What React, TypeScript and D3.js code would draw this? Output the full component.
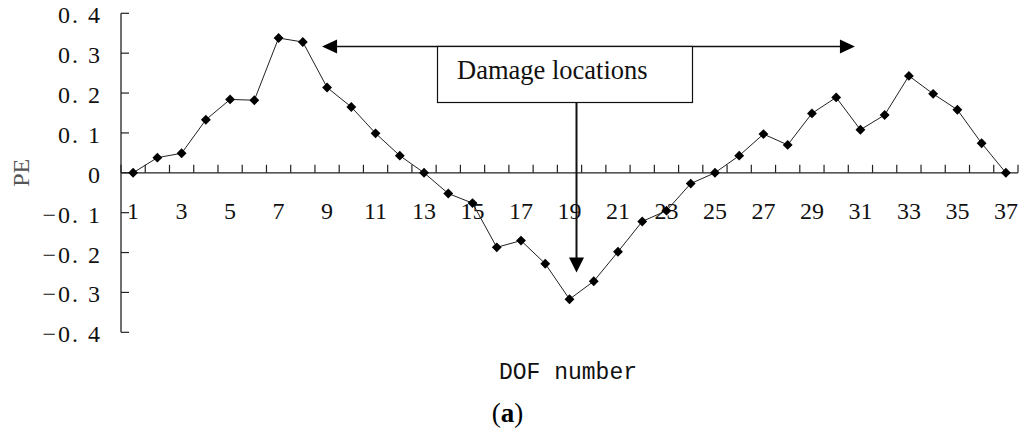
import React from "react";
import * as d3 from "d3";

const dofNumbers: number[] = Array.from({ length: 37 }, (_, i) => i + 1);
const peValues: number[] = [
  0, 0.038, 0.049, 0.133, 0.184, 0.182, 0.338, 0.328, 0.214, 0.165,
  0.099, 0.043, 0, -0.052, -0.076, -0.187, -0.17, -0.228, -0.317, -0.272,
  -0.198, -0.122, -0.095, -0.027, 0, 0.043, 0.097, 0.07, 0.149, 0.189,
  0.108, 0.145, 0.243, 0.198, 0.158, 0.074, 0,
];
const yTicks: number[] = [0.4, 0.3, 0.2, 0.1, 0, -0.1, -0.2, -0.3, -0.4];
const xTickLabels: number[] = [1, 3, 5, 7, 9, 11, 13, 15, 17, 19, 21, 23, 25, 27, 29, 31, 33, 35, 37];
const annotationText = "Damage locations";
const arrowFrom = 9; // left arrow tip near DOF 9
const arrowTo = 31; // right arrow tip near DOF 31
const arrowDown = 19; // vertical arrow DOF
const arrowDownValue = -0.24;

const W = 1024;
const H = 435;

function fmtY(v: number): string {
  if (v === 0) return "0";
  const s = d3.format(".1f")(Math.abs(v)).replace(".", ". ");
  return (v < 0 ? "\u2212" : "") + s;
}

export default function App() {
  const x = d3
    .scaleBand<number>()
    .domain(dofNumbers)
    .range([121, 1018])
    .paddingInner(0)
    .paddingOuter(0);
  const y = d3.scaleLinear().domain([-0.4, 0.4]).range([332.3, 13.3]);
  const cx = (d: number) => (x(d) as number) + x.bandwidth() / 2;
  const y0 = y(0);

  const line = d3
    .line<number>()
    .x((_, i) => cx(dofNumbers[i]))
    .y((d) => y(d));

  const boundaries = d3.range(dofNumbers.length + 1).map((i) => 121 + i * x.bandwidth());

  const diamond = d3.symbol().type(d3.symbolDiamond2).size(62)();

  const boxX0 = 437.5;
  const boxX1 = 692.5;
  const boxY0 = 46.5;
  const boxY1 = 102.5;
  const leftTip = cx(arrowFrom) - 5;
  const rightTip = cx(arrowTo) - 5.5;
  const vx = cx(arrowDown) + 7;
  const vTip = y(arrowDownValue) + 4;

  const serif = "'Liberation Serif', 'Times New Roman', serif";
  const mono = "'Liberation Mono', 'Courier New', monospace";

  return (
    <svg
      width={W}
      height={H}
      viewBox={`0 0 ${W} ${H}`}
      style={{ position: "absolute", left: 0, top: 0, background: "#fff" }}
    >
      <rect x={0} y={0} width={W} height={H} fill="#fff" />
      {/* Y axis */}
      <line x1={121} x2={121} y1={y(0.4)} y2={y(-0.4)} stroke="#222" strokeWidth={1.3} />
      {yTicks.map((t) => (
        <g key={`yt${t}`}>
          <line x1={121} x2={129} y1={y(t)} y2={y(t)} stroke="#222" strokeWidth={1.2} />
          <text
            x={102}
            y={y(t) + 10}
            textAnchor="end"
            fontFamily={serif}
            fontSize={24}
            letterSpacing={2}
            fill="#111"
          >
            {fmtY(t)}
          </text>
        </g>
      ))}
      {/* X axis at zero */}
      <line x1={121} x2={1018} y1={y0} y2={y0} stroke="#222" strokeWidth={1.3} />
      {boundaries.map((b, i) => (
        <line key={`xb${i}`} x1={b} x2={b} y1={y0} y2={y0 - 8} stroke="#222" strokeWidth={1.2} />
      ))}
      {xTickLabels.map((d) => (
        <text
          key={`xl${d}`}
          x={cx(d)}
          y={219}
          textAnchor="middle"
          fontFamily={serif}
          fontSize={24}
          fill="#111"
        >
          {d}
        </text>
      ))}
      {/* Data line */}
      <path d={line(peValues) || ""} fill="none" stroke="#222" strokeWidth={1} />
      {peValues.map((v, i) => (
        <path
          key={`m${i}`}
          d={diamond || ""}
          transform={`translate(${cx(dofNumbers[i])},${y(v)})`}
          fill="#000"
        />
      ))}
      {/* Annotation */}
      <line x1={leftTip + 14} x2={rightTip - 14} y1={boxY0} y2={boxY0} stroke="#111" strokeWidth={1.4} />
      <path
        d={`M${leftTip},${boxY0} L${leftTip + 15},${boxY0 - 7} L${leftTip + 15},${boxY0 + 7} Z`}
        fill="#000"
      />
      <path
        d={`M${rightTip},${boxY0} L${rightTip - 15},${boxY0 - 7} L${rightTip - 15},${boxY0 + 7} Z`}
        fill="#000"
      />
      <rect
        x={boxX0}
        y={boxY0}
        width={boxX1 - boxX0}
        height={boxY1 - boxY0}
        fill="#fff"
        stroke="#111"
        strokeWidth={1.2}
      />
      <text x={457} y={79} fontFamily={serif} fontSize={26.5} fill="#111">
        {annotationText}
      </text>
      <line x1={vx} x2={vx} y1={boxY1} y2={vTip - 14} stroke="#111" strokeWidth={2} />
      <path
        d={`M${vx},${vTip} L${vx - 7.5},${vTip - 15} L${vx + 7.5},${vTip - 15} Z`}
        fill="#000"
      />
      {/* Axis titles */}
      <text
        transform={`translate(29,${y0}) rotate(-90)`}
        textAnchor="middle"
        fontFamily={serif}
        fontSize={24}
        fill="#555"
      >
        PE
      </text>
      <text x={568} y={379} textAnchor="middle" fontFamily={mono} fontSize={23} fill="#111">
        DOF number
      </text>
      <text x={507.5} y={422} textAnchor="middle" fontFamily={serif} fontSize={27} fill="#000">
        (<tspan fontWeight="bold">a</tspan>)
      </text>
    </svg>
  );
}
